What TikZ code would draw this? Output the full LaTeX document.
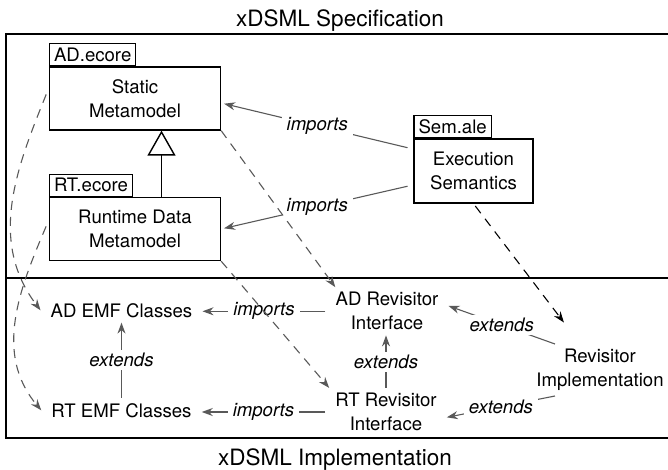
\documentclass[tikz,border=0pt]{standalone}
\usepackage{fontspec}
\setmainfont{TeX Gyre Heros}
\usetikzlibrary{arrows.meta}
\newcommand{\bodyfont}{\fontsize{18.6}{24}\selectfont}
\tikzset{modelbox/.style={draw,line width=1.3pt,minimum width=171pt,minimum height=63pt,align=center},
    filetab/.style={draw,line width=1.3pt,anchor=south west,minimum height=22pt,inner xsep=4.5pt,inner ysep=0pt},
    artefact/.style={align=center,inner xsep=10pt,inner ysep=5pt},
    relation/.style={draw=black!65,line width=1.1pt,-{Stealth[length=11pt,width=8pt]}},
    rellabel/.style={fill=white,inner xsep=5pt,inner ysep=3pt,font=\bodyfont\itshape},
    derived/.style={relation,dash pattern=on 9pt off 7pt},
    generalization/.style={draw,line width=1.4pt,-{Triangle[open,length=25pt,width=28pt]}},
    title/.style={font=\fontsize{22.5}{27}\selectfont,anchor=base}}
\begin{document}
\begin{tikzpicture}[x=1pt,y=1pt,font=\bodyfont]
	\useasboundingbox (0,0) rectangle (668,-470);
	\draw[line width=1.4pt] (672,-34) -| (6,-438) -- (672,-438);
	\draw[line width=1.4pt] (6,-278) -- (672,-278);
	\node[title] (spec) at (340,-27) {xDSML Specification};
	\node[title] (impl) at (335,-465) {xDSML Implementation};

	\node[modelbox] (static) at (135,-98.5) {Static\\Metamodel};
	\node[filetab] (adtab) at (static.north west) {AD.ecore};
	\node[modelbox] (runtime) at (135,-229) {Runtime Data\\Metamodel};
	\node[filetab] (rttab) at (runtime.north west) {RT.ecore};
	\node[modelbox,minimum width=119pt,minimum height=64pt] (sem) at (473.5,-171) {Execution\\Semantics};
	\node[filetab] (semtab) at (sem.north west) {Sem.ale};

	\node[artefact] (ademf) at (121.5,-310.3) {AD EMF Classes};
	\node[artefact] (rtemf) at (121.5,-410.3) {RT EMF Classes};
	\node[artefact] (adrev) at (387,-311.3) {AD Revisitor\\Interface};
	\node[artefact] (rtrev) at (386,-412) {RT Revisitor\\Interface};
	\node[artefact] (revimpl) at (600,-370) {Revisitor\\Implementation};

	\draw[generalization] ([xshift=26.5pt]runtime.north) -- ([xshift=26.5pt]static.south);
	\draw[relation,shorten <=6pt,shorten >=3pt] (sem.160) -- node[rellabel] {imports} (static.-3);
	\draw[relation,shorten <=6pt,shorten >=3pt] (sem.193) -- node[rellabel] {imports} (runtime.east);
	\draw[relation] (adrev.west) -- node[rellabel] {imports} (adrev.west -| ademf.east);
	\draw[relation] (rtrev.west) -- node[rellabel] {imports} (rtrev.west -| rtemf.east);
	\draw[relation] (rtemf.north) -- node[rellabel] {extends} (rtemf.north |- ademf.south);
	\draw[relation] (rtrev.north) -- node[rellabel] {extends} (rtrev.north |- adrev.south);
	\draw[relation] (revimpl.150) -- node[rellabel] {extends} (adrev.5);
	\draw[relation] (revimpl.210) -- node[rellabel] {extends} (rtrev.-5);

	\draw[derived] (static.south east) -- (adrev.155);
	\draw[derived] (runtime.south east) -- (rtrev.157);
	\draw[derived,draw=black,shorten <=3pt,shorten >=27pt] (sem.south) -- (revimpl);
	\draw[derived,shorten <=7pt] (static.173) to[out=248,in=127] (ademf.west);
	\draw[derived,shorten <=7pt] (runtime.174) to[out=247,in=130] (rtemf.west);
\end{tikzpicture}
\end{document}
